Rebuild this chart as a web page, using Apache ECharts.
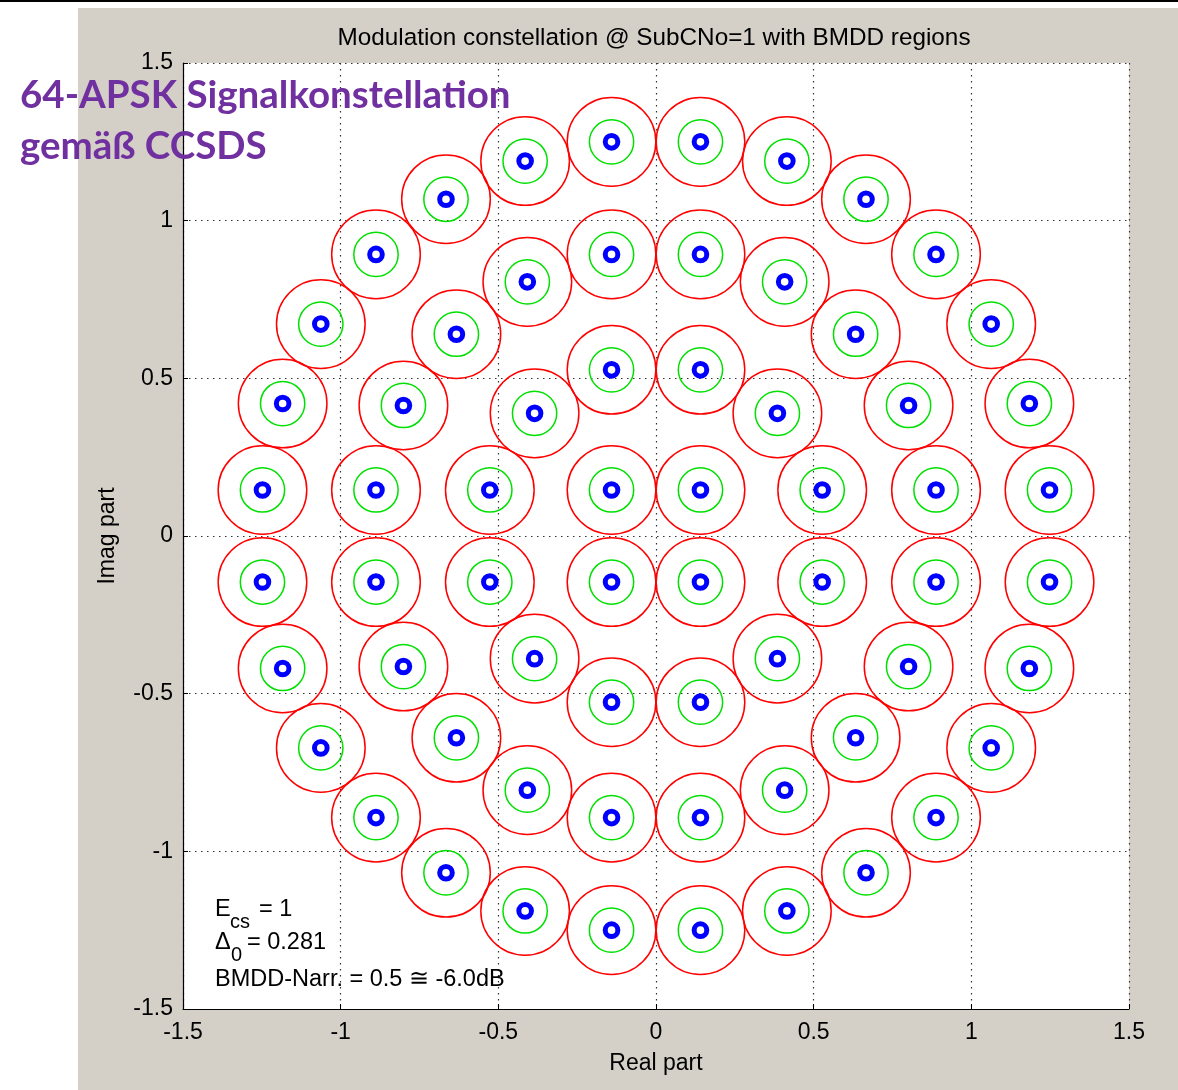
<!DOCTYPE html>
<html>
<head>
<meta charset="utf-8">
<script src="https://cdn.jsdelivr.net/npm/echarts@6/dist/echarts.min.js"></script>
<style>
  html, body { margin: 0; padding: 0; background: #fff; }
  #chart { width: 1178px; height: 1090px; }
</style>
</head>
<body>
<div id="chart"></div>
<script>
// 64-APSK constellation (4+12+20+28 rings), symbol positions in the complex plane
const ring1Points = [
  [0.141, 0.146], [-0.141, 0.146], [-0.141, -0.146], [0.141, -0.146]
];
const ring2Points = [
  [0.141, 0.527], [0.385, 0.389], [0.527, 0.146],
  [0.527, -0.146], [0.385, -0.389], [0.141, -0.527],
  [-0.141, -0.527], [-0.385, -0.389], [-0.527, -0.146],
  [-0.527, 0.146], [-0.385, 0.389], [-0.141, 0.527]
];
const ring3Points = [
  [0.141, 0.893], [0.408, 0.806], [0.633, 0.640], [0.801, 0.414], [0.888, 0.146],
  [0.888, -0.146], [0.801, -0.414], [0.633, -0.640], [0.408, -0.806], [0.141, -0.893],
  [-0.141, -0.893], [-0.408, -0.806], [-0.633, -0.640], [-0.801, -0.414], [-0.888, -0.146],
  [-0.888, 0.146], [-0.801, 0.414], [-0.633, 0.640], [-0.408, 0.806], [-0.141, 0.893]
];
const ring4Points = [
  [0.141, 1.250], [0.415, 1.189], [0.666, 1.068], [0.888, 0.893], [1.063, 0.672], [1.184, 0.420], [1.248, 0.146],
  [1.248, -0.146], [1.184, -0.420], [1.063, -0.672], [0.888, -0.893], [0.666, -1.068], [0.415, -1.189], [0.141, -1.250],
  [-0.141, -1.250], [-0.415, -1.189], [-0.666, -1.068], [-0.888, -0.893], [-1.063, -0.672], [-1.184, -0.420], [-1.248, -0.146],
  [-1.248, 0.146], [-1.184, 0.420], [-1.063, 0.672], [-0.888, 0.893], [-0.666, 1.068], [-0.415, 1.189], [-0.141, 1.250]
];

// Decision region radii (data units): full BMDD region = Delta0/2, narrowed = 0.5 of that
const delta0 = 0.281;
const regionRadius = 0.1405;
const narrowRadius = 0.07025;
const pointRadius = 0.02;

const tickValues = [-1.5, -1, -0.5, 0, 0.5, 1, 1.5];
const tickLabels = ['-1.5', '-1', '-0.5', '0', '0.5', '1', '1.5'];

const allPoints = ring1Points.concat(ring2Points, ring3Points, ring4Points);

function tickText(v) {
  const i = tickValues.findIndex(t => Math.abs(t - v) < 1e-9);
  return i >= 0 ? tickLabels[i] : '';
}

function circleRenderer(radius, color, width) {
  return function (params, api) {
    const c = api.coord([api.value(0), api.value(1)]);
    const s = api.size([radius, radius]);
    return {
      type: 'circle',
      shape: { cx: c[0], cy: c[1], r: s[0] },
      style: { fill: null, stroke: color, lineWidth: width }
    };
  };
}

const FONT = 'Liberation Sans, Arial, sans-serif';
const chart = echarts.init(document.getElementById('chart'), null, { renderer: 'canvas' });

const axisCommon = {
  type: 'value',
  min: -1.5,
  max: 1.5,
  interval: 0.5,
  axisLine: { show: true, onZero: false, lineStyle: { color: '#000', width: 1.2 } },
  axisTick: { show: true, inside: true, length: 5, lineStyle: { color: '#000', width: 1 } },
  axisLabel: { color: '#000', fontSize: 23, fontFamily: FONT, formatter: tickText },
  splitLine: { show: true, showMinLine: true, showMaxLine: true, lineStyle: { color: '#333', width: 1.2, type: [1.5, 4.5] } },
  nameLocation: 'middle',
  nameTextStyle: { color: '#000', fontSize: 23, fontFamily: FONT }
};

const annot = { fontSize: 23.5, fontFamily: FONT, fill: '#000' };
const annotSub = { fontSize: 20, fontFamily: FONT, fill: '#000' };
const caption = { font: 'bold 38.5px Lato', fill: '#7030a0' };

chart.setOption({
  backgroundColor: '#fff',
  animation: false,
  title: {
    text: 'Modulation constellation @ SubCNo=1 with BMDD regions',
    left: 649,
    top: 21,
    textAlign: 'center',
    textStyle: { color: '#000', fontSize: 24.3, fontWeight: 'normal', fontFamily: FONT }
  },
  grid: {
    left: 183, top: 63, width: 946, height: 946,
    show: true, backgroundColor: '#fff', borderWidth: 0
  },
  xAxis: Object.assign({}, axisCommon, {
    name: 'Real part',
    nameGap: 43,
    axisLabel: Object.assign({}, axisCommon.axisLabel, { margin: 12 })
  }),
  yAxis: Object.assign({}, axisCommon, {
    name: 'Imag part',
    nameGap: 64,
    axisLabel: Object.assign({}, axisCommon.axisLabel, { margin: 10 })
  }),
  graphic: [
    { type: 'rect', z: -100, silent: true, shape: { x: 78, y: 8, width: 1100, height: 1082 }, style: { fill: '#d4d0c8' } },
    { type: 'rect', z: -100, silent: true, shape: { x: 0, y: 0, width: 1178, height: 2 }, style: { fill: '#000' } },
    // annotation block
    { type: 'text', z: 50, x: 215, y: 898, style: Object.assign({ text: 'E' }, annot) },
    { type: 'text', z: 50, x: 230, y: 912, style: Object.assign({ text: 'cs' }, annotSub) },
    { type: 'text', z: 50, x: 259, y: 898, style: Object.assign({ text: '= 1' }, annot) },
    { type: 'text', z: 50, x: 215, y: 931, style: Object.assign({ text: '\u0394' }, annot) },
    { type: 'text', z: 50, x: 231, y: 945, style: Object.assign({ text: '0' }, annotSub) },
    { type: 'text', z: 50, x: 247, y: 931, style: Object.assign({ text: '= 0.281' }, annot) },
    { type: 'text', z: 50, x: 215, y: 968, style: Object.assign({ text: 'BMDD-Narr. = 0.5 \u2245 -6.0dB' }, annot) },
    // overlay caption
    { type: 'text', z: 100, x: 20, y: 76, style: Object.assign({ text: '64-APSK Signalkonstellation' }, caption) },
    { type: 'text', z: 100, x: 20, y: 127, style: Object.assign({ text: 'gemäß CCSDS' }, caption) }
  ],
  series: [
    {
      type: 'custom', name: 'BMDD region', coordinateSystem: 'cartesian2d', z: 3,
      renderItem: circleRenderer(regionRadius, '#ff0000', 1.5), data: allPoints
    },
    {
      type: 'custom', name: 'narrowed region', coordinateSystem: 'cartesian2d', z: 4,
      renderItem: circleRenderer(narrowRadius, '#00e000', 1.5), data: allPoints
    },
    {
      type: 'custom', name: 'received symbols', coordinateSystem: 'cartesian2d', z: 5,
      renderItem: circleRenderer(pointRadius, '#0000ff', 5), data: allPoints
    }
  ]
});
</script>
</body>
</html>
